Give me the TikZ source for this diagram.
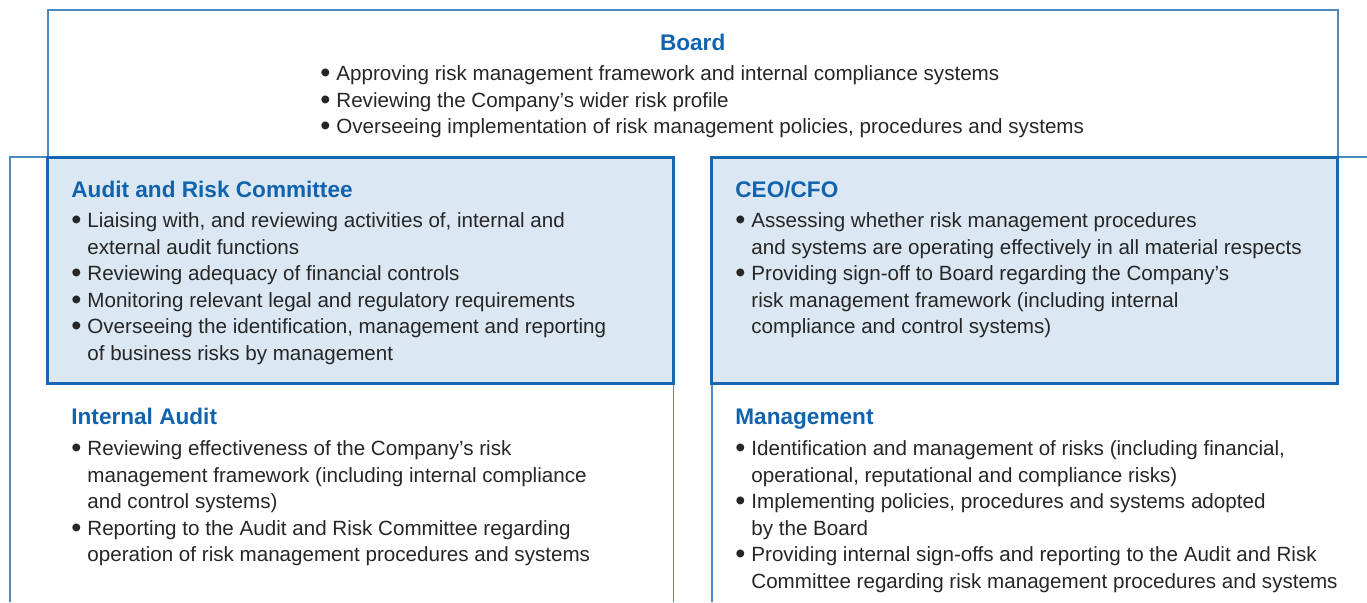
\documentclass[tikz,border=0pt]{standalone}
\usepackage{fontspec}
\setmainfont{Liberation Sans}
\usepackage{tikz}
\usepackage{xcolor}

\definecolor{thinblue}{RGB}{75,139,197}
\definecolor{boxblue}{RGB}{22,101,176}
\definecolor{boxfill}{RGB}{219,231,242}
\definecolor{headblue}{RGB}{18,99,174}

\tikzset{
    thinline/.style={draw=thinblue, line width=0.8pt},
    panel/.style={fill=boxfill, draw=boxblue, line width=1.5pt},
    head/.style={text=headblue, inner sep=0pt, font=\fontsize{11.3}{13}\selectfont\bfseries},
    body/.style={text=black!85, inner sep=0pt, anchor=north west, align=left,
        font=\fontsize{10.3}{13.3}\selectfont},
}
% bullet line and continuation line
\newcommand{\itm}{\strut\makebox[8pt][l]{\raisebox{-0.95pt}{\scalebox{1.4}{\textbullet}}}}
\newcommand{\cnt}{\strut\hspace*{8pt}}

\begin{document}
\begin{tikzpicture}[x=0.5pt, y=-0.5pt]
    \useasboundingbox (0,0) rectangle (1367,602);

    % frames
    \draw[thinline] (47.7,157) -- (47.7,10) -- (1337.7,10) -- (1337.7,157);
    \draw[thinline] (10,602) -- (10,157) -- (673.3,157) -- (673.3,602);
    \draw[thinline] (711.7,602) -- (711.7,157) -- (1367,157);

    % shaded panels
    \draw[panel] (47.7,157.3) rectangle (673.3,383.3);
    \draw[panel] (711.7,157.3) rectangle (1337.7,383.3);

    % board
    \node[head, anchor=base] (board) at (692.7,50) {Board};
    \node[body] (boardtext) at (320,61.5) {%
        \itm Approving risk management framework and internal compliance systems\\
        \itm Reviewing the Company’s wider risk profile\\
        \itm Overseeing implementation of risk management policies, procedures and systems};

    % audit and risk committee
    \node[head, anchor=base west] (arc) at (71,197) {Audit and Risk Committee};
    \node[body] (arctext) at (71,208.5) {%
        \itm Liaising with, and reviewing activities of, internal and\\
        \cnt external audit functions\\
        \itm Reviewing adequacy of financial controls\\
        \itm Monitoring relevant legal and regulatory requirements\\
        \itm Overseeing the identification, management and reporting\\
        \cnt of business risks by management};

    % ceo/cfo
    \node[head, anchor=base west] (ceo) at (735,197) {CEO/CFO};
    \node[body] (ceotext) at (735,208.5) {%
        \itm Assessing whether risk management procedures\\
        \cnt and systems are operating effectively in all material respects\\
        \itm Providing sign-off to Board regarding the Company’s\\
        \cnt risk management framework (including internal\\
        \cnt compliance and control systems)};

    % internal audit
    \node[head, anchor=base west] (ia) at (71,424) {Internal Audit};
    \node[body] (iatext) at (71,436.5) {%
        \itm Reviewing effectiveness of the Company’s risk\\
        \cnt management framework (including internal compliance\\
        \cnt and control systems)\\
        \itm Reporting to the Audit and Risk Committee regarding\\
        \cnt operation of risk management procedures and systems};

    % management
    \node[head, anchor=base west] (mgmt) at (735,424) {Management};
    \node[body] (mgmttext) at (735,436.5) {%
        \itm Identification and management of risks (including financial,\\
        \cnt operational, reputational and compliance risks)\\
        \itm Implementing policies, procedures and systems adopted\\
        \cnt by the Board\\
        \itm Providing internal sign-offs and reporting to the Audit and Risk\\
        \cnt Committee regarding risk management procedures and systems};
\end{tikzpicture}
\end{document}
